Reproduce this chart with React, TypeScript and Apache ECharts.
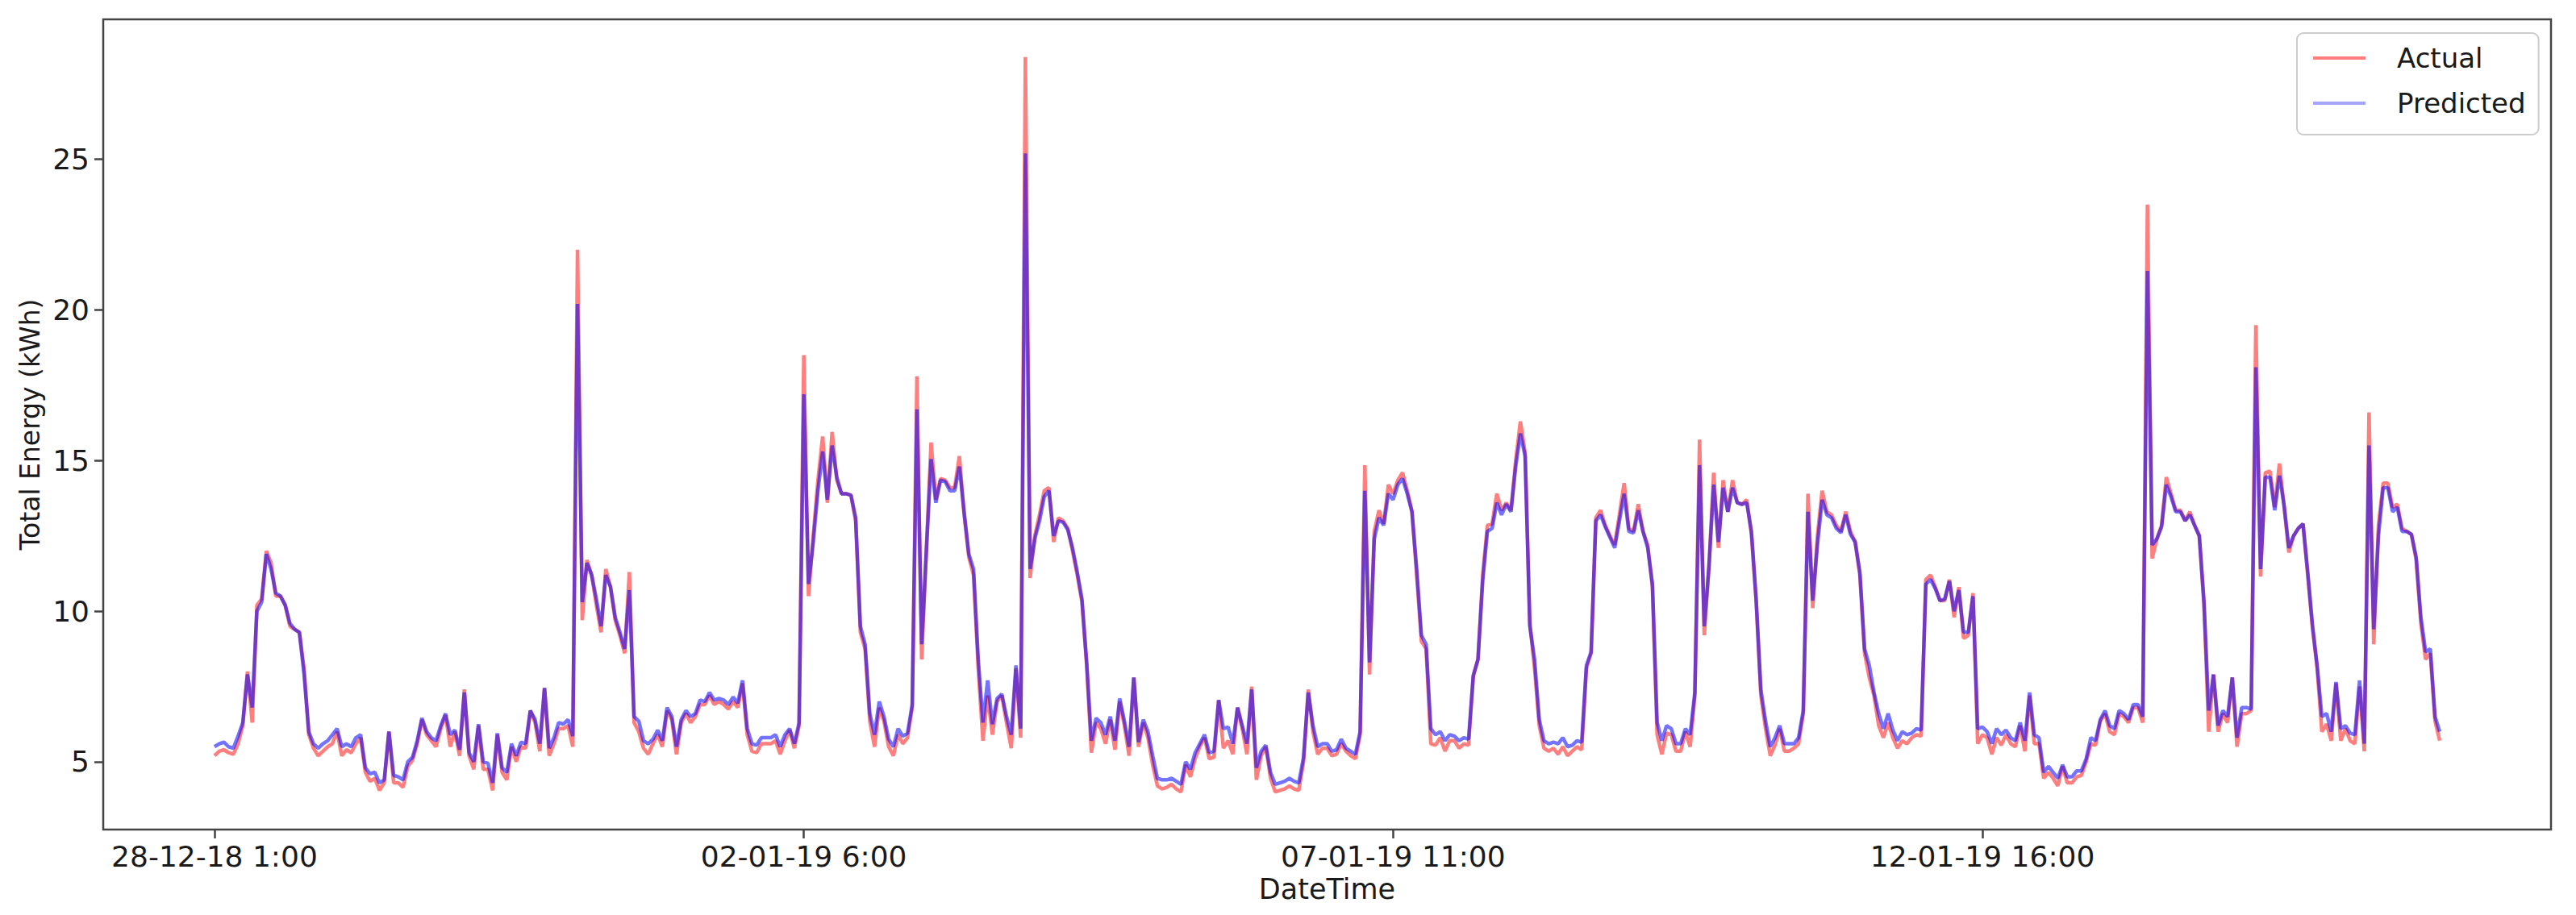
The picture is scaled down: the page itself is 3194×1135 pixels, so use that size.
import React, { useEffect, useRef } from "react";
import * as echarts from "echarts";

const xTickIndex = [0, 125, 250, 375];
const xTickLabels = ["28-12-18 1:00", "02-01-19 6:00", "07-01-19 11:00", "12-01-19 16:00"];
const yTickValues = [5, 10, 15, 20, 25];

const actual = [
  5.2, 5.35, 5.4, 5.3, 5.25, 5.6, 6.2, 8.0, 6.3, 10.2,
  10.4, 12.0, 11.6, 10.5, 10.5, 10.2, 9.5, 9.4, 9.3, 8.1,
  5.9, 5.45, 5.2, 5.35, 5.5, 5.6, 6.0, 5.2, 5.4, 5.3,
  5.6, 5.8, 4.65, 4.35, 4.45, 4.05, 4.3, 6.0, 4.3, 4.3,
  4.15, 4.85, 5.05, 5.6, 6.4, 5.9, 5.7, 5.5, 6.1, 6.55,
  5.5, 6.0, 5.2, 7.4, 5.2, 4.75, 6.2, 4.75, 4.75, 4.05,
  5.9, 4.65, 4.4, 5.5, 5.0, 5.5, 5.45, 6.7, 6.3, 5.35,
  7.45, 5.2, 5.6, 6.1, 6.1, 6.2, 5.5, 22.0, 9.7, 11.7,
  11.2, 10.2, 9.3, 11.4, 10.8, 9.7, 9.2, 8.6, 11.3, 6.3,
  6.0, 5.45, 5.25, 5.6, 5.9, 5.5, 6.7, 6.4, 5.25, 6.3,
  6.6, 6.3, 6.5, 6.9, 6.9, 7.2, 6.9, 7.0, 6.9, 6.75,
  7.0, 6.8, 7.6, 5.9, 5.35, 5.3, 5.6, 5.6, 5.6, 5.7,
  5.25, 5.7, 6.05, 5.45, 6.2, 18.5, 10.5, 12.5, 14.35, 15.8,
  13.6, 15.95, 14.35, 13.9, 13.9, 13.85, 13.0, 9.3, 8.75, 6.35,
  5.5, 6.8, 6.35, 5.5, 5.2, 5.9, 5.6, 5.8, 6.8, 17.8,
  8.4, 12.1, 15.6, 13.7, 14.4, 14.35, 14.1, 14.1, 15.15, 13.2,
  11.8, 11.2, 8.1, 5.7, 7.2, 5.9, 7.0, 7.2, 6.3, 5.45,
  8.1, 5.8, 28.4, 11.1, 12.5, 13.2, 14.0, 14.1, 12.3, 13.1,
  13.0, 12.75, 12.0, 11.2, 10.3, 8.2, 5.3, 6.3, 6.1, 5.6,
  6.4, 5.4, 7.0, 6.2, 5.2, 7.8, 5.5, 6.3, 5.8, 4.9,
  4.2, 4.1, 4.15, 4.25, 4.1, 4.0, 4.9, 4.5, 5.1, 5.5,
  5.8, 5.1, 5.15, 7.05, 5.45, 5.7, 5.25, 6.8, 6.1, 5.25,
  7.5, 4.4, 5.2, 5.5, 4.45, 4.0, 4.05, 4.1, 4.2, 4.1,
  4.05, 5.0, 7.4, 6.0, 5.25, 5.45, 5.45, 5.2, 5.25, 5.6,
  5.35, 5.2, 5.1, 5.9, 14.85, 7.9, 12.65, 13.35, 12.9, 14.2,
  13.9, 14.35, 14.6, 14.0, 13.3, 11.2, 9.0, 8.75, 5.6, 5.55,
  5.8, 5.35, 5.7, 5.7, 5.45, 5.6, 5.55, 7.85, 8.4, 11.2,
  12.85, 12.9, 13.9, 13.35, 13.6, 13.35, 15.0, 16.3, 15.25, 9.6,
  8.1, 6.2, 5.45, 5.35, 5.45, 5.25, 5.5, 5.2, 5.35, 5.5,
  5.4, 8.1, 8.6, 13.1, 13.35, 12.85, 12.5, 12.2, 13.2, 14.25,
  12.75, 12.65, 13.55, 12.65, 12.2, 10.8, 5.9, 5.25, 5.95, 5.9,
  5.35, 5.35, 6.0, 5.5, 7.2, 15.7, 9.2, 11.5, 14.6, 12.1,
  14.35, 13.3, 14.35, 13.6, 13.55, 13.7, 12.55, 10.35, 7.2, 6.1,
  5.2, 5.55, 6.1, 5.35, 5.35, 5.45, 5.6, 6.6, 13.9, 10.1,
  12.5, 14.0, 13.3, 13.2, 12.85, 12.65, 13.3, 12.65, 12.3, 11.2,
  8.6, 7.8, 7.2, 6.2, 5.8, 6.3, 5.8, 5.45, 5.7, 5.6,
  5.8, 5.9, 5.85, 11.05, 11.2, 10.8, 10.35, 10.35, 11.05, 9.8,
  10.8, 9.1, 9.2, 10.6, 5.6, 5.9, 5.8, 5.25, 5.8, 5.55,
  5.9, 5.6, 5.5, 6.2, 5.35, 7.2, 5.6, 5.6, 4.45, 4.65,
  4.45, 4.2, 4.85, 4.3, 4.3, 4.5, 4.55, 5.0, 5.6, 5.55,
  6.35, 6.6, 6.0, 5.9, 6.6, 6.5, 6.3, 6.8, 6.8, 6.3,
  23.5, 11.75, 12.4, 12.85, 14.45, 13.9, 13.35, 13.35, 13.0, 13.3,
  12.85, 12.5, 10.2, 6.0, 7.9, 6.0, 6.6, 6.3, 7.8, 5.5,
  6.6, 6.6, 6.7, 19.5, 11.15, 14.6, 14.65, 13.45, 14.9, 13.45,
  11.95, 12.5, 12.75, 12.9, 11.2, 9.45, 8.1, 6.0, 6.25, 5.7,
  7.6, 5.7, 6.1, 5.7, 5.6, 7.5, 5.35, 16.6, 8.9, 12.85,
  14.25, 14.25, 13.45, 13.55, 12.75, 12.65, 12.55, 11.7, 9.6, 8.4,
  8.6, 6.35, 5.7,
];

const predicted = [
  5.5, 5.6, 5.65, 5.5, 5.45, 5.85, 6.3, 7.9, 6.8, 10.0,
  10.3, 11.9, 11.4, 10.6, 10.5, 10.2, 9.6, 9.4, 9.3, 7.9,
  6.0, 5.6, 5.45, 5.6, 5.7, 5.9, 6.1, 5.5, 5.6, 5.5,
  5.8, 5.9, 4.8, 4.6, 4.65, 4.3, 4.4, 6.0, 4.55, 4.5,
  4.4, 5.0, 5.15, 5.7, 6.45, 6.0, 5.8, 5.7, 6.2, 6.6,
  5.9, 6.05, 5.4, 7.3, 5.3, 5.0, 6.25, 5.0, 4.95, 4.3,
  5.95, 4.8, 4.65, 5.6, 5.2, 5.65, 5.6, 6.7, 6.4, 5.6,
  7.45, 5.45, 5.8, 6.3, 6.25, 6.4, 5.85, 20.2, 10.3, 11.6,
  11.2, 10.4, 9.5, 11.2, 10.8, 9.8, 9.3, 8.75, 10.7, 6.5,
  6.35, 5.7, 5.6, 5.75, 6.05, 5.7, 6.8, 6.5, 5.5, 6.4,
  6.7, 6.5, 6.6, 7.05, 7.0, 7.3, 7.05, 7.1, 7.05, 6.9,
  7.15, 6.95, 7.7, 6.1, 5.6, 5.55, 5.8, 5.8, 5.8, 5.9,
  5.5, 5.9, 6.1, 5.6, 6.3, 17.2, 10.9, 12.3, 14.0, 15.3,
  13.7, 15.5, 14.45, 13.9, 13.9, 13.85, 13.1, 9.5, 8.9, 6.6,
  5.9, 7.0, 6.5, 5.75, 5.5, 6.1, 5.85, 5.95, 6.9, 16.7,
  8.9, 12.0, 15.05, 13.6, 14.35, 14.3, 14.0, 14.0, 14.8, 13.3,
  11.9, 11.4, 8.4, 6.3, 7.7, 6.25, 7.1, 7.25, 6.5, 5.9,
  8.2, 6.1, 25.2, 11.4, 12.4, 13.0, 13.8, 14.0, 12.5, 13.0,
  12.95, 12.7, 12.1, 11.3, 10.4, 8.3, 5.7, 6.45, 6.3, 5.9,
  6.5, 5.7, 7.1, 6.35, 5.5, 7.8, 5.65, 6.4, 6.0, 5.2,
  4.45, 4.4, 4.4, 4.45, 4.35, 4.25, 5.0, 4.75, 5.3, 5.6,
  5.9, 5.3, 5.35, 7.05, 6.1, 6.15, 5.6, 6.8, 6.2, 5.6,
  7.4, 4.8, 5.35, 5.55, 4.65, 4.25, 4.3, 4.35, 4.45, 4.35,
  4.3, 5.15, 7.3, 6.2, 5.5, 5.6, 5.6, 5.35, 5.4, 5.75,
  5.45, 5.35, 5.25, 6.0, 14.0, 8.3, 12.4, 13.1, 12.85, 13.9,
  13.7, 14.2, 14.4, 13.9, 13.3, 11.4, 9.2, 8.9, 6.1, 5.9,
  6.0, 5.7, 5.9, 5.85, 5.7, 5.8, 5.75, 7.85, 8.4, 11.0,
  12.65, 12.75, 13.6, 13.2, 13.55, 13.3, 14.8, 15.9, 15.15, 9.5,
  8.4, 6.4, 5.7, 5.6, 5.65, 5.6, 5.8, 5.5, 5.55, 5.7,
  5.65, 8.2, 8.65, 13.0, 13.2, 12.8, 12.45, 12.1, 13.0, 13.9,
  12.65, 12.6, 13.35, 12.65, 12.1, 10.9, 6.3, 5.7, 6.2, 6.1,
  5.6, 5.6, 6.1, 5.9, 7.3, 14.85, 9.5, 11.5, 14.2, 12.3,
  14.1, 13.3, 14.1, 13.6, 13.55, 13.6, 12.65, 10.4, 7.4, 6.35,
  5.5, 5.8, 6.2, 5.6, 5.6, 5.6, 5.8, 6.7, 13.3, 10.35,
  12.2, 13.7, 13.2, 13.1, 12.75, 12.6, 13.2, 12.55, 12.3, 11.3,
  8.75, 8.2, 7.3, 6.6, 6.1, 6.6, 6.05, 5.7, 6.0, 5.9,
  5.95, 6.1, 6.05, 10.9, 11.05, 10.75, 10.35, 10.4, 11.0, 10.0,
  10.7, 9.3, 9.3, 10.5, 6.1, 6.15, 6.0, 5.6, 6.1, 5.9,
  6.05, 5.8, 5.7, 6.3, 5.7, 7.3, 5.9, 5.8, 4.65, 4.85,
  4.65, 4.45, 4.9, 4.5, 4.5, 4.7, 4.7, 5.1, 5.8, 5.7,
  6.4, 6.7, 6.2, 6.1, 6.7, 6.6, 6.4, 6.9, 6.9, 6.5,
  21.3, 12.2, 12.4, 12.8, 14.2, 13.8, 13.3, 13.3, 13.0, 13.2,
  12.85, 12.5, 10.3, 6.7, 7.9, 6.2, 6.7, 6.5, 7.8, 5.8,
  6.8, 6.8, 6.75, 18.1, 11.4, 14.45, 14.45, 13.35, 14.5, 13.5,
  12.1, 12.5, 12.75, 12.9, 11.3, 9.55, 8.2, 6.5, 6.6, 6.0,
  7.65, 6.1, 6.2, 5.95, 5.9, 7.7, 5.6, 15.5, 9.4, 12.5,
  14.1, 14.1, 13.3, 13.45, 12.65, 12.65, 12.55, 11.8, 9.8, 8.65,
  8.75, 6.5, 6.0,
];

export default function App() {
  const ref = useRef<HTMLDivElement>(null);
  useEffect(() => {
    const chart = echarts.init(ref.current!, null, { renderer: "svg" });
    const font = "DejaVu Sans";
    const textColor = "#1a1a1a";
    const axisColor = "#444";
    chart.setOption({
      animation: false,
      backgroundColor: "#ffffff",
      textStyle: { fontFamily: font },
      grid: {
        left: 128,
        right: 31,
        top: 24,
        bottom: 106,
        show: true,
        borderColor: axisColor,
        borderWidth: 2.5,
        containLabel: false,
      },
      legend: {
        orient: "vertical",
        left: 2848,
        top: 41,
        icon: "rect",
        itemWidth: 65,
        itemHeight: 4,
        itemGap: 22,
        padding: [14, 16, 22, 20],
        borderColor: "#cccccc",
        borderWidth: 2,
        borderRadius: 8,
        backgroundColor: "rgba(255,255,255,0.8)",
        textStyle: { fontSize: 34, color: textColor, fontFamily: font, padding: [0, 0, 0, 34] },
        data: ["Actual", "Predicted"],
      },
      xAxis: {
        type: "value",
        min: -23.6,
        max: 495.6,
        name: "DateTime",
        nameLocation: "middle",
        nameGap: 56,
        nameTextStyle: { fontSize: 35, color: textColor, fontFamily: font },
        axisLine: { show: false, onZero: false },
        splitLine: { show: false },
        axisTick: {
          show: true,
          inside: false,
          length: 11,
          lineStyle: { color: axisColor, width: 2.5 },
          customValues: xTickIndex,
        },
        axisLabel: {
          show: true,
          margin: 15,
          fontSize: 36,
          color: textColor,
          fontFamily: font,
          customValues: xTickIndex,
          formatter: (v: number) => {
            const k = xTickIndex.indexOf(Math.round(v));
            return k >= 0 ? xTickLabels[k] : "";
          },
        },
      },
      yAxis: {
        type: "value",
        min: 2.75,
        max: 29.65,
        name: "Total Energy (kWh)",
        nameLocation: "middle",
        nameGap: 74,
        nameTextStyle: { fontSize: 33, color: textColor, fontFamily: font },
        axisLine: { show: false, onZero: false },
        splitLine: { show: false },
        axisTick: {
          show: true,
          inside: false,
          length: 11,
          lineStyle: { color: axisColor, width: 2.5 },
          customValues: yTickValues,
        },
        axisLabel: {
          show: true,
          margin: 17,
          fontSize: 36,
          color: textColor,
          fontFamily: font,
          customValues: yTickValues,
          formatter: (v: number) => String(v),
        },
      },
      series: [
        {
          name: "Actual",
          type: "line",
          symbol: "none",
          showSymbol: false,
          data: actual.map((v, i) => [i, v]),
          lineStyle: { color: "rgba(255,0,0,0.5)", width: 4.5 },
          itemStyle: { color: "rgba(255,0,0,0.5)" },
          z: 2,
        },
        {
          name: "Predicted",
          type: "line",
          symbol: "none",
          showSymbol: false,
          data: predicted.map((v, i) => [i, v]),
          lineStyle: { color: "rgba(0,0,255,0.55)", width: 4.5 },
          itemStyle: { color: "rgba(0,0,255,0.35)" },
          z: 3,
        },
      ],
    });
    return () => chart.dispose();
  }, []);
  return (
    <div
      ref={ref}
      style={{ position: "fixed", left: 0, top: 0, width: 3194, height: 1135, background: "#fff" }}
    />
  );
}
